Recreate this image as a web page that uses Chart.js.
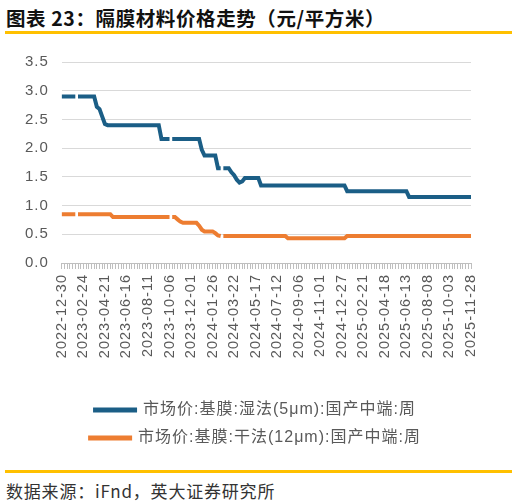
<!DOCTYPE html>
<html>
<head>
<meta charset="utf-8">
<script src="https://cdn.jsdelivr.net/npm/chart.js@4"></script>
<style>
  html, body { margin: 0; padding: 0; background: #fff; }
  body { width: 517px; height: 503px; position: relative; overflow: hidden; }
  #title { position: absolute; left: 6px; top: 3px; font-family: "Noto Sans CJK SC", sans-serif; font-weight: bold; font-size: 19.5px; letter-spacing: 0.6px; color: #111; white-space: nowrap; }
  .rule { position: absolute; left: 5px; width: 507px; height: 3px; background: #FFC000; }
  #source { position: absolute; left: 6px; top: 478px; font-family: "Noto Sans CJK SC", sans-serif; font-size: 17px; letter-spacing: 0.8px; color: #333; white-space: nowrap; }
  #wrap { position: absolute; left: 0; top: 40px; width: 517px; height: 420px; }
</style>
</head>
<body>
<div id="title">图表 23：隔膜材料价格走势（元/平方米）</div>
<div class="rule" style="top:31px"></div>
<div id="wrap"><canvas id="c"></canvas></div>
<div class="rule" style="top:470px"></div>
<div id="source">数据来源：iFnd，英大证券研究所</div>
<script>
const dates = [
"2022-12-30",
"2023-01-06","2023-01-13","2023-01-20","2023-01-27","2023-02-03","2023-02-10","2023-02-17","2023-02-24",
"2023-03-03","2023-03-10","2023-03-17","2023-03-24","2023-03-31","2023-04-07","2023-04-14","2023-04-21",
"2023-04-28","2023-05-05","2023-05-12","2023-05-19","2023-05-26","2023-06-02","2023-06-09","2023-06-16",
"2023-06-23","2023-06-30","2023-07-07","2023-07-14","2023-07-21","2023-07-28","2023-08-04","2023-08-11",
"2023-08-18","2023-08-25","2023-09-01","2023-09-08","2023-09-15","2023-09-22","2023-09-29","2023-10-06",
"2023-10-13","2023-10-20","2023-10-27","2023-11-03","2023-11-10","2023-11-17","2023-11-24","2023-12-01",
"2023-12-08","2023-12-15","2023-12-22","2023-12-29","2024-01-05","2024-01-12","2024-01-19","2024-01-26",
"2024-02-02","2024-02-09","2024-02-16","2024-02-23","2024-03-01","2024-03-08","2024-03-15","2024-03-22",
"2024-03-29","2024-04-05","2024-04-12","2024-04-19","2024-04-26","2024-05-03","2024-05-10","2024-05-17",
"2024-05-24","2024-05-31","2024-06-07","2024-06-14","2024-06-21","2024-06-28","2024-07-05","2024-07-12",
"2024-07-19","2024-07-26","2024-08-02","2024-08-09","2024-08-16","2024-08-23","2024-08-30","2024-09-06",
"2024-09-13","2024-09-20","2024-09-27","2024-10-04","2024-10-11","2024-10-18","2024-10-25","2024-11-01",
"2024-11-08","2024-11-15","2024-11-22","2024-11-29","2024-12-06","2024-12-13","2024-12-20","2024-12-27",
"2025-01-03","2025-01-10","2025-01-17","2025-01-24","2025-01-31","2025-02-07","2025-02-14","2025-02-21",
"2025-02-28","2025-03-07","2025-03-14","2025-03-21","2025-03-28","2025-04-04","2025-04-11","2025-04-18",
"2025-04-25","2025-05-02","2025-05-09","2025-05-16","2025-05-23","2025-05-30","2025-06-06","2025-06-13",
"2025-06-20","2025-06-27","2025-07-04","2025-07-11","2025-07-18","2025-07-25","2025-08-01","2025-08-08",
"2025-08-15","2025-08-22","2025-08-29","2025-09-05","2025-09-12","2025-09-19","2025-09-26","2025-10-03",
"2025-10-10","2025-10-17","2025-10-24","2025-10-31","2025-11-07","2025-11-14","2025-11-21","2025-11-28"
];

const wetLabel = "市场价:基膜:湿法(5μm):国产中端:周";
const wetValues = [
2.9,2.9,2.9,2.9,2.9,2.9,2.9,2.9,2.9,2.9,2.9,2.9,2.9,
2.72,2.68,2.55,2.42,
2.4,2.4,2.4,2.4,2.4,2.4,2.4,2.4,2.4,2.4,2.4,2.4,2.4,2.4,2.4,2.4,2.4,2.4,2.4,2.4,
2.16,2.16,2.16,2.16,2.16,2.16,2.16,2.16,2.16,2.16,2.16,2.16,2.16,2.16,2.16,
1.97,1.87,1.87,1.87,1.87,1.87,
1.65,1.65,1.65,1.65,1.65,1.58,1.53,1.45,1.40,1.42,
1.48,1.48,1.48,1.48,1.48,1.48,
1.35,1.35,1.35,1.35,1.35,1.35,1.35,1.35,1.35,1.35,1.35,1.35,1.35,1.35,1.35,1.35,
1.35,1.35,1.35,1.35,1.35,1.35,1.35,1.35,1.35,1.35,1.35,1.35,1.35,1.35,1.35,1.35,
1.25,1.25,1.25,1.25,1.25,1.25,1.25,1.25,1.25,1.25,1.25,1.25,1.25,1.25,1.25,1.25,1.25,1.25,1.25,1.25,1.25,1.25,1.25,
1.15,1.15,1.15,1.15,1.15,1.15,1.15,1.15,1.15,1.15,1.15,1.15,1.15,1.15,1.15,1.15,1.15,1.15,1.15,1.15,1.15,1.15,1.15,1.15
];

const dryLabel = "市场价:基膜:干法(12μm):国产中端:周";
const dryValues = [
0.85,0.85,0.85,0.85,0.85,0.85,
0.85,0.85,0.85,0.85,0.85,0.85,0.85,0.85,0.85,0.85,0.85,0.85,0.85,
0.80,0.80,0.80,0.80,0.80,0.80,0.80,0.80,0.80,0.80,0.80,0.80,0.80,0.80,0.80,0.80,0.80,0.80,0.80,0.80,0.80,0.80,
0.80,0.80,0.76,0.72,
0.70,0.70,0.70,0.70,0.70,0.70,
0.65,0.58,0.55,0.55,0.55,0.55,0.52,0.48,0.47,0.47,
0.47,0.47,0.47,0.47,0.47,0.47,0.47,0.47,0.47,0.47,0.47,0.47,0.47,0.47,0.47,0.47,0.47,0.47,0.47,0.47,0.47,0.47,0.47,
0.43,0.43,0.43,0.43,0.43,0.43,0.43,0.43,0.43,0.43,0.43,0.43,0.43,0.43,0.43,0.43,0.43,0.43,0.43,0.43,0.43,0.43,
0.47,0.47,0.47,0.47,0.47,0.47,0.47,0.47,0.47,0.47,0.47,0.47,0.47,0.47,0.47,0.47,0.47,0.47,0.47,0.47,
0.47,0.47,0.47,0.47,0.47,0.47,0.47,0.47,0.47,0.47,0.47,0.47,0.47,0.47,0.47,0.47,0.47,0.47,0.47,0.47,
0.47,0.47,0.47,0.47,0.47,0.47,0.47
];

// weeks after which the source series has a short break (missing segment)
const gapAfter = [5, 40, 59];

const yTicks = [0, 0.5, 1.0, 1.5, 2.0, 2.5, 3.0, 3.5];
const labelEvery = 8;

const wetColor = "#1B5E86";
const dryColor = "#ED7D31";

const spacing = {
  id: 'spacing',
  beforeUpdate(chart) { chart.ctx.letterSpacing = '1px'; },
  beforeLayout(chart) { chart.ctx.letterSpacing = '1px'; },
  afterLayout(chart) { if (chart.legend) { chart.legend.left += 14; chart.legend.right += 14; } },
  beforeDraw(chart) { chart.ctx.letterSpacing = '1px'; }
};

const FONT = "'Liberation Sans', 'Noto Sans CJK SC', sans-serif";
const gapSegment = { borderColor: (ctx) => (gapAfter.includes(ctx.p0DataIndex) ? 'rgba(0,0,0,0)' : undefined) };

new Chart(document.getElementById('c'), {
  type: 'line',
  data: {
    labels: dates,
    datasets: [
      { label: wetLabel, data: wetValues, borderColor: wetColor, backgroundColor: wetColor,
        borderWidth: 4, pointRadius: 0, tension: 0, segment: gapSegment },
      { label: dryLabel, data: dryValues, borderColor: dryColor, backgroundColor: dryColor,
        borderWidth: 4, pointRadius: 0, tension: 0, segment: gapSegment }
    ]
  },
  options: {
    responsive: true,
    maintainAspectRatio: false,
    animation: false,
    layout: { padding: { top: 21, left: 12, right: 46, bottom: 4 } },
    plugins: {
      tooltip: { enabled: false },
      legend: {
        position: 'bottom',
        labels: {
          boxWidth: 40, boxHeight: 1, padding: 12,
          color: '#595959', font: { family: FONT, size: 16 }
        }
      }
    },
    scales: {
      x: {
        grid: { display: true, drawOnChartArea: false, drawTicks: true, tickLength: 6, color: '#BFBFBF' },
        border: { display: true, color: '#BFBFBF' },
        ticks: {
          autoSkip: false, maxRotation: 90, minRotation: 90, padding: 5,
          color: '#595959', font: { family: FONT, size: 14.5 },
          callback: (v, i) => (i % labelEvery === 0 ? dates[i] : '')
        },
        afterFit: (s) => { s.height = 127; }
      },
      y: {
        min: yTicks[0], max: yTicks[yTicks.length - 1],
        afterBuildTicks: (s) => { s.ticks = yTicks.map(v => ({ value: v })); },
        grid: { color: '#D9D9D9', drawTicks: false },
        border: { display: false },
        ticks: {
          padding: 13, color: '#595959', font: { family: FONT, size: 15 },
          callback: (v) => Number(v).toFixed(1)
        }
      }
    }
  },
  plugins: [spacing]
});
</script>
</body>
</html>
